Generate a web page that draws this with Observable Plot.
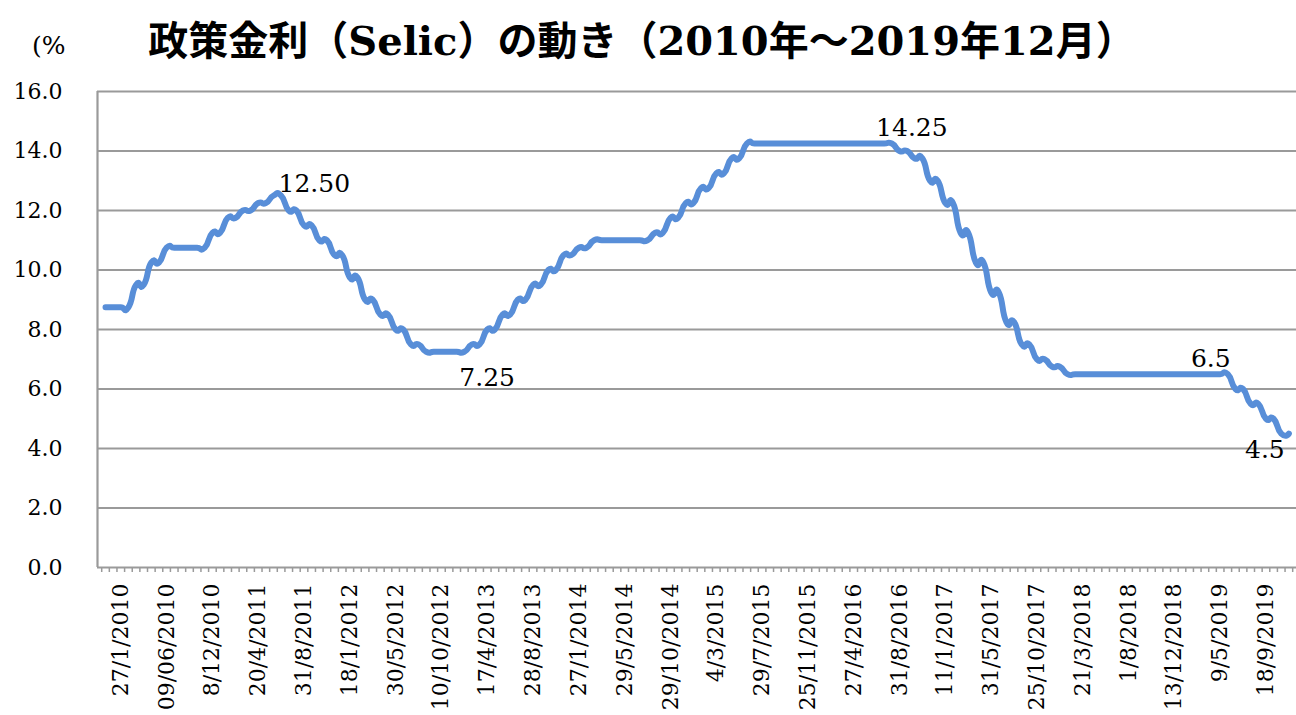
<!DOCTYPE html>
<html><head><meta charset="utf-8">
<script src="https://cdn.jsdelivr.net/npm/d3@7"></script>
<script src="https://cdn.jsdelivr.net/npm/@observablehq/plot@0.6"></script>
<style>
html,body{margin:0;padding:0;background:#fff;overflow:hidden;}
#fig{position:relative;width:1296px;height:715px;overflow:hidden;}
#title{position:absolute;left:0;top:20px;width:1284px;text-align:center;font-family:"DejaVu Serif","Noto Sans CJK JP",serif;font-weight:bold;font-size:40px;line-height:42px;color:#000;white-space:nowrap;}
#unit{position:absolute;left:32px;top:31px;font-family:"DejaVu Serif",serif;font-size:25px;line-height:30px;color:#000;}
#chart{position:absolute;left:0;top:60px;}
</style></head><body>
<div id="fig">
  <div id="chart"></div>
  <div id="title">政策金利（Selic）の動き（2010年～2019年12月）</div>
  <div id="unit">(%</div>
</div>
<script>
// Selic rate, one value per category on the chart's category axis
const rates = [
  8.75, 8.75, 8.75, 8.75, 9.5, 9.5, 10.25, 10.25,
  10.75, 10.75, 10.75, 10.75, 10.75, 10.75,
  11.25, 11.25, 11.75, 11.75, 12.0, 12.0, 12.25, 12.25, 12.5, 12.5,
  12.0, 12.0, 11.5, 11.5, 11.0, 11.0, 10.5, 10.5, 9.75, 9.75,
  9.0, 9.0, 8.5, 8.5, 8.0, 8.0, 7.5, 7.5,
  7.25, 7.25, 7.25, 7.25, 7.25, 7.25,
  7.5, 7.5, 8.0, 8.0, 8.5, 8.5, 9.0, 9.0, 9.5, 9.5, 10.0, 10.0,
  10.5, 10.5, 10.75, 10.75,
  11.0, 11.0, 11.0, 11.0, 11.0, 11.0, 11.0, 11.0,
  11.25, 11.25, 11.75, 11.75, 12.25, 12.25, 12.75, 12.75,
  13.25, 13.25, 13.75, 13.75,
  14.25, 14.25, 14.25, 14.25, 14.25, 14.25, 14.25, 14.25, 14.25, 14.25,
  14.25, 14.25, 14.25, 14.25, 14.25, 14.25, 14.25, 14.25, 14.25, 14.25,
  14.0, 14.0, 13.75, 13.75, 13.0, 13.0, 12.25, 12.25, 11.25, 11.25,
  10.25, 10.25, 9.25, 9.25, 8.25, 8.25, 7.5, 7.5, 7.0, 7.0, 6.75, 6.75,
  6.5, 6.5, 6.5, 6.5, 6.5, 6.5, 6.5, 6.5, 6.5, 6.5, 6.5,
  6.5, 6.5, 6.5, 6.5, 6.5, 6.5, 6.5, 6.5, 6.5, 6.5, 6.5,
  6.0, 6.0, 5.5, 5.5, 5.0, 5.0, 4.5, 4.5
];

// category positions that carry a date label, and those labels
const tickIndex = [2, 8, 14, 20, 26, 32, 38, 44, 50, 56, 62, 68, 74, 80, 86, 92, 98, 104, 110, 116, 122, 128, 134, 140, 146, 152];
const tickLabels = ["27/1/2010", "09/06/2010", "8/12/2010", "20/4/2011", "31/8/2011", "18/1/2012", "30/5/2012", "10/10/2012",
  "17/4/2013", "28/8/2013", "27/1/2014", "29/5/2014", "29/10/2014", "4/3/2015", "29/7/2015", "25/11/2015",
  "27/4/2016", "31/8/2016", "11/1/2017", "31/5/2017", "25/10/2017", "21/3/2018", "1/8/2018", "13/12/2018",
  "9/5/2019", "18/9/2019"];

const yTicks = [0, 2, 4, 6, 8, 10, 12, 14, 16];

// data labels: category, value, text
const annoIndex = [22, 103, 47, 147, 155];
const annoValue = [12.5, 14.25, 7.25, 6.5, 4.5];
const annoText = ["12.50", "14.25", "7.25", "6.5", "4.5"];

// ---- rendering ----
const data = rates.map((v, i) => ({i, v}));
const labelMap = new Map(tickIndex.map((d, k) => [d, tickLabels[k]]));
const xDomain = [-1.05, 156.0];
const boundaries = d3.range(-0.5, rates.length, 1);
const grid = "#9a9a9a";
const serif = "'DejaVu Serif', serif";
const annoOffsets = [
  {dx: 5, dy: -12, anchor: "start"},
  {dx: 20, dy: -16, anchor: "middle"},
  {dx: -5, dy: 26, anchor: "start"},
  {dx: -17, dy: -15, anchor: "middle"},
  {dx: -24, dy: 16, anchor: "middle"}
];
const annoMarks = annoText.map((t, k) => Plot.text([{i: annoIndex[k], v: annoValue[k], t}], {
  x: "i", y: "v", text: "t", dx: annoOffsets[k].dx, dy: annoOffsets[k].dy,
  textAnchor: annoOffsets[k].anchor, fontSize: 25, fill: "#000", fontFamily: serif
}));

const chart = Plot.plot({
  width: 1296, height: 655,
  marginLeft: 97, marginRight: 0, marginTop: 31, marginBottom: 148,
  x: {type: "linear", domain: xDomain, axis: null, label: null},
  y: {domain: [0, 16], axis: null, label: null},
  style: {fontFamily: serif, background: "transparent", overflow: "hidden"},
  marks: [
    Plot.gridY(yTicks, {stroke: grid, strokeOpacity: 1, strokeWidth: 1.8}),
    Plot.ruleX([xDomain[0]], {stroke: grid, strokeWidth: 2.2}),
    Plot.axisY(yTicks, {tickSize: 0, tickPadding: 35, tickFormat: d => d.toFixed(1), fontSize: 22, fill: "#000", label: null}),
    Plot.axisX(boundaries, {tickSize: 5, tickFormat: () => "", stroke: grid, strokeWidth: 1.5, label: null}),
    Plot.axisX(tickIndex, {tickSize: 0, tickPadding: 16, tickRotate: -90, tickFormat: i => labelMap.get(i), fontSize: 22, fill: "#000", label: null}),
    Plot.line(data, {x: "i", y: "v", curve: "cardinal", tension: -0.9, stroke: "#588ed8", strokeWidth: 6}),
    ...annoMarks
  ]
});
document.getElementById("chart").appendChild(chart);
</script>
</body></html>
